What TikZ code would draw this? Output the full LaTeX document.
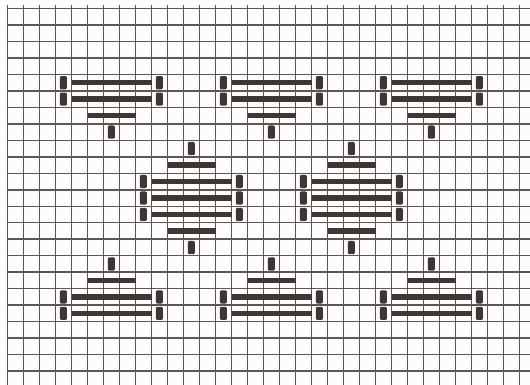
\documentclass[tikz,border=0pt]{standalone}
\usepackage{tikz}
\definecolor{gridc}{HTML}{5A5856}
\definecolor{barc}{HTML}{3E3634}
\definecolor{paper}{HTML}{FDFCFA}
\tikzset{
  gridline/.style={draw=gridc, line width=1.5pt},
  barfill/.style={fill=barc},
  capfill/.style={fill=barc, rounded corners=1.2pt}
}
% horizontal bar from column #1 to column #2 (inclusive) in row #3
\newcommand{\knbar}[3]{\fill[barfill] ({7.3+16*(#1)+0.6},{16.74+16.48*(#3)-2.7}) rectangle ({7.3+16*((#2)+1)+0.6},{16.74+16.48*(#3)+2.7});}
% vertical cap / stem in column #1, row #2
\newcommand{\kncap}[2]{\fill[capfill] ({15.3+16*(#1)-3.5},{16.74+16.48*(#2)-6.6}) rectangle ({15.3+16*(#1)+3.5},{16.74+16.48*(#2)+6.6});}
\begin{document}
\begin{tikzpicture}[x=1pt,y=-1pt]
\useasboundingbox (0,0) rectangle (530,385);
\fill[paper] (0,0) rectangle (530,385);
% grid
\foreach \k in {0,...,32} \draw[gridline] ({7.3+16*\k},5.5) -- ({7.3+16*\k},385);
\foreach \k in {0,...,22} \draw[gridline] (6.5,{8.5+16.48*\k}) -- (530,{8.5+16.48*\k});
% top motifs
\foreach \o in {0,10,20} {
  \kncap{3+\o}{4} \kncap{3+\o}{5}
  \kncap{9+\o}{4} \kncap{9+\o}{5}
  \knbar{4+\o}{8+\o}{4} \knbar{4+\o}{8+\o}{5}
  \knbar{5+\o}{7+\o}{6}
  \kncap{6+\o}{7}
}
% middle motifs
\foreach \o in {0,10} {
  \kncap{11+\o}{8}
  \knbar{10+\o}{12+\o}{9}
  \knbar{9+\o}{13+\o}{10} \knbar{9+\o}{13+\o}{11} \knbar{9+\o}{13+\o}{12}
  \kncap{8+\o}{10} \kncap{8+\o}{11} \kncap{8+\o}{12}
  \kncap{14+\o}{10} \kncap{14+\o}{11} \kncap{14+\o}{12}
  \knbar{10+\o}{12+\o}{13}
  \kncap{11+\o}{14}
}
% bottom motifs
\foreach \o in {0,10,20} {
  \kncap{6+\o}{15}
  \knbar{5+\o}{7+\o}{16}
  \knbar{4+\o}{8+\o}{17} \knbar{4+\o}{8+\o}{18}
  \kncap{3+\o}{17} \kncap{3+\o}{18}
  \kncap{9+\o}{17} \kncap{9+\o}{18}
}
\end{tikzpicture}
\end{document}
